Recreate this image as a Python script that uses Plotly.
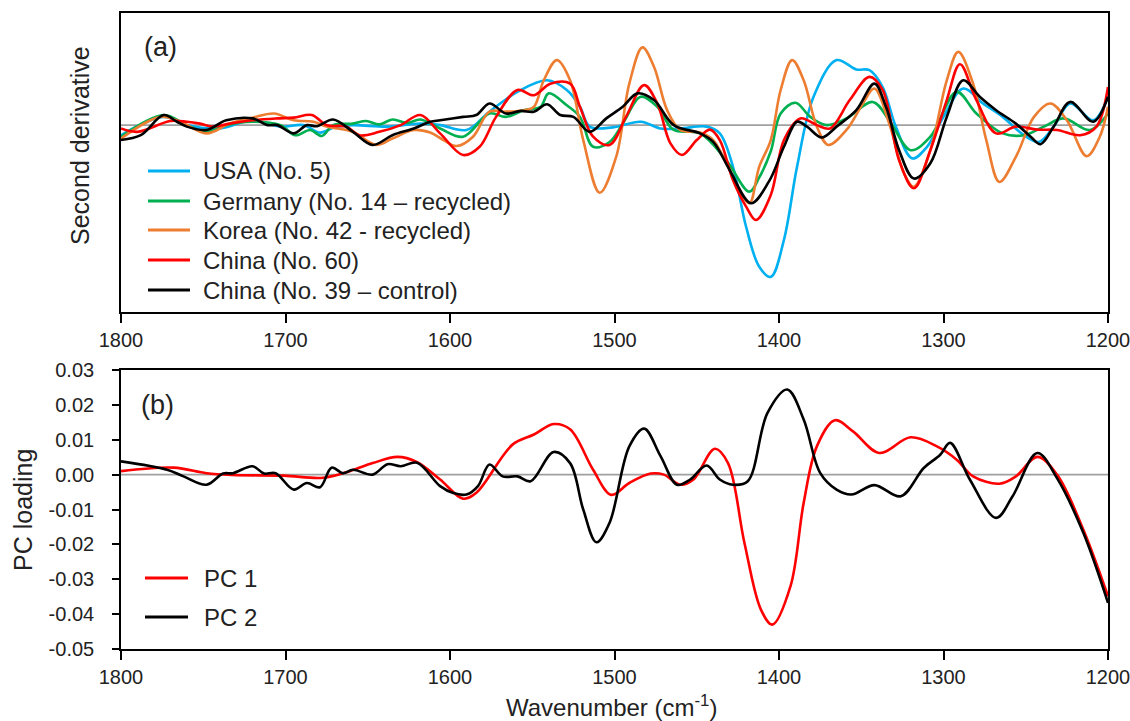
import plotly.graph_objects as go

# ---------------- Panel (a): second derivative spectra (wavenumber, value) ----------------
usa = [(1800,-0.27),(1774,0.22),(1760,0),(1740,-0.09),(1720,0.13),(1703,-0.04),(1689,0),(1679,-0.2),
       (1670,-0.05),(1659,0),(1638,-0.04),(1618,0.04),(1606,0),(1590,-0.13),(1576,0.36),(1559,0.89),
       (1541,1.2),(1529,0.94),(1521,0.49),(1515,-0.04),(1501,-0.06),(1484,0.09),(1472,-0.09),(1460,-0.09),
       (1444,-0.04),(1436,-0.22),(1428,-1.11),(1420,-2.72),(1412,-3.79),(1405,-4.06),(1397,-3.07),
       (1389,-1.11),(1379,0.76),(1365,1.74),(1353,1.49),(1345,1.47),(1337,1.02),(1329,-0.04),(1319,-0.89),
       (1310,-0.58),(1300,0.22),(1288,0.98),(1276,0.58),(1264,0.22),(1251,-0.27),(1242,-0.45),(1233,-0.04),
       (1223,0.58),(1209,0.13),(1200,0.76)]
germany = [(1800,-0.31),(1774,0.27),(1760,0),(1748,-0.18),(1736,0),(1720,0.09),(1703,0),(1694,-0.27),
           (1685,-0.13),(1678,-0.29),(1671,0),(1659,0.04),(1651,0.11),(1643,0.02),(1635,0.15),(1626,0.06),
           (1618,0.15),(1606,-0.09),(1592,-0.31),(1576,0.31),(1566,0.22),(1555,0.40),(1545,0.49),(1540,0.85),
           (1529,0.53),(1521,0.22),(1513,-0.58),(1503,-0.45),(1495,0.04),(1484,0.76),(1474,0.49),(1464,-0.13),
           (1448,-0.22),(1432,-0.94),(1418,-1.78),(1412,-1.40),(1405,-0.70),(1399,0.31),(1390,0.60),
           (1381,0.22),(1371,0),(1359,0.18),(1343,0.62),(1333,0.13),(1320,-0.67),(1308,-0.31),(1292,0.89),
           (1280,0.31),(1264,-0.22),(1251,-0.27),(1239,-0.04),(1227,0.18),(1211,-0.13),(1200,0.31)]
korea = [(1800,-0.36),(1776,0.22),(1764,0.09),(1748,-0.22),(1734,0.04),(1720,0.2),(1707,0.31),(1695,0.13),
         (1683,0.09),(1675,-0.04),(1659,-0.18),(1645,-0.53),(1635,-0.36),(1622,-0.13),(1612,-0.2),
         (1604,-0.4),(1596,-0.56),(1586,-0.31),(1576,0.36),(1566,0.36),(1555,0.40),(1549,0.49),(1543,1.2),
         (1535,1.74),(1527,1.2),(1519,-0.4),(1509,-1.81),(1499,-0.85),(1491,1.11),(1483,2.08),(1476,1.56),
         (1468,0.40),(1460,-0.13),(1448,-0.2),(1440,-0.4),(1432,-1.02),(1424,-1.74),(1418,-2.09),
         (1412,-1.11),(1405,-0.40),(1399,0.94),(1392,1.74),(1385,1.2),(1377,-0.04),(1370,-0.53),
         (1359,-0.13),(1349,0.58),(1342,0.98),(1333,0.04),(1324,-1.29),(1318,-1.65),(1308,-0.67),
         (1298,1.2),(1291,1.96),(1282,1.11),(1274,-0.40),(1266,-1.52),(1256,-0.85),(1245,0.22),(1235,0.58),
         (1225,0.13),(1213,-0.83),(1205,-0.31),(1200,0.49)]
china60 = [(1800,-0.09),(1790,-0.18),(1770,0.11),(1760,0.09),(1752,0.04),(1744,-0.04),(1734,0.04),
           (1720,0.13),(1705,0.18),(1695,0.2),(1684,0.27),(1675,0),(1663,-0.04),(1655,-0.27),(1643,-0.18),
           (1630,0),(1618,0.27),(1606,-0.22),(1592,-0.80),(1582,-0.58),(1572,0.22),(1559,0.94),(1549,0.80),
           (1539,1.11),(1527,1.11),(1521,0.49),(1513,-0.31),(1503,-0.53),(1493,0.22),(1482,1.07),(1474,0.58),
           (1466,-0.49),(1459,-0.80),(1450,-0.40),(1442,-0.12),(1436,-0.40),(1428,-1.47),(1420,-2.18),
           (1414,-2.54),(1405,-1.87),(1397,-0.40),(1387,0.18),(1377,0),(1369,-0.09),(1357,0.67),(1345,1.29),
           (1337,0.94),(1327,-0.94),(1318,-1.69),(1308,-0.67),(1298,0.67),(1290,1.63),(1280,0.67),
           (1268,-0.22),(1256,-0.04),(1243,-0.12),(1231,-0.13),(1217,-0.27),(1207,-0.04),(1200,1.02)]
china39 = [(1800,-0.40),(1788,-0.27),(1774,0.27),(1766,0.09),(1760,-0.04),(1748,-0.13),(1736,0.13),
           (1720,0.18),(1711,0),(1705,0),(1695,-0.22),(1687,0),(1681,-0.03),(1671,0.15),(1659,-0.18),
           (1647,-0.53),(1635,-0.27),(1622,-0.09),(1612,0.09),(1606,0.13),(1592,0.22),(1584,0.27),(1576,0.58),
           (1566,0.31),(1557,0.38),(1549,0.36),(1541,0.56),(1533,0.27),(1525,0.22),(1515,-0.18),(1505,0.18),
           (1495,0.49),(1486,0.85),(1476,0.67),(1464,0),(1448,-0.22),(1440,-0.45),(1430,-1.20),(1417,-2.09),
           (1406,-1.5),(1397,-0.58),(1389,0.09),(1383,-0.04),(1374,-0.33),(1365,-0.04),(1353,0.40),
           (1342,1.11),(1335,0.49),(1327,-0.67),(1318,-1.43),(1308,-1.02),(1298,0.22),(1288,1.20),
           (1278,0.76),(1268,0.40),(1256,0.04),(1247,-0.31),(1241,-0.51),(1233,-0.04),(1223,0.62),
           (1209,0.09),(1200,0.76)]

top_names = ["USA (No. 5)", "Germany (No. 14 \u2013 recycled)", "Korea (No. 42 - recycled)",
             "China (No. 60)", "China (No. 39 \u2013 control)"]
top_data = [usa, germany, korea, china60, china39]
top_colors = ["#00B0F0", "#00B050", "#ED7D31", "#FF0000", "#000000"]

# ---------------- Panel (b): PC loadings ----------------
pc1 = [(1800,0.001),(1768,0.002),(1748,0.0004),(1732,-0.0001),(1701,-0.0003),(1677,-0.0009),(1661,0.001),
       (1647,0.0033),(1632,0.0051),(1620,0.0036),(1606,-0.0014),(1592,-0.0069),(1584,-0.0052),
       (1562,0.0086),(1549,0.0115),(1537,0.0145),(1527,0.013),(1513,0.0014),(1502,-0.0058),(1491,-0.0024),
       (1478,0.0003),(1470,0.0),(1460,-0.0029),(1452,-0.0014),(1439,0.0074),(1431,0.0033),(1421,-0.0196),
       (1411,-0.0387),(1404,-0.043),(1393,-0.032),(1385,-0.0081),(1377,0.0081),(1366,0.0156),
       (1355,0.0124),(1339,0.0062),(1320,0.0107),(1304,0.0081),(1292,0.0043),(1282,-0.0005),
       (1266,-0.0026),(1256,-0.0005),(1243,0.0051),(1231,0.0),(1215,-0.0158),(1200,-0.0349)]
pc2 = [(1800,0.0038),(1772,0.0014),(1762,-0.0005),(1748,-0.0029),(1738,0.0003),(1732,0.0004),
       (1720,0.0024),(1713,0.0003),(1706,0.0004),(1695,-0.0043),(1687,-0.0024),(1679,-0.0036),
       (1672,0.002),(1665,0.0004),(1659,0.0014),(1647,0.0),(1638,0.003),(1630,0.0024),(1620,0.0034),
       (1606,-0.0033),(1598,-0.0053),(1590,-0.0057),(1583,-0.0033),(1576,0.0029),(1568,-0.0005),
       (1559,-0.0005),(1551,-0.0019),(1537,0.0065),(1527,0.0033),(1519,-0.010),(1511,-0.0194),
       (1503,-0.0138),(1491,0.0081),(1482,0.0132),(1472,0.0053),(1462,-0.0029),(1454,-0.0014),
       (1444,0.0026),(1436,-0.0014),(1428,-0.0029),(1419,-0.0019),(1407,0.0177),(1395,0.0244),
       (1385,0.0158),(1375,0.0005),(1365,-0.0043),(1356,-0.0057),(1342,-0.003),(1326,-0.0062),
       (1312,0.0019),(1302,0.0057),(1296,0.0091),(1284,-0.0014),(1268,-0.0124),(1258,-0.0062),
       (1243,0.0062),(1231,-0.001),(1215,-0.0167),(1200,-0.0368)]

bottom_names = ["PC 1", "PC 2"]
bottom_data = [pc1, pc2]
bottom_colors = ["#FF0000", "#000000"]

x_ticks = [1800, 1700, 1600, 1500, 1400, 1300, 1200]
y2_ticks = [0.03, 0.02, 0.01, 0.00, -0.01, -0.02, -0.03, -0.04, -0.05]
y2_ticktext = ["0.03", "0.02", "0.01", "0.00", "-0.01", "-0.02", "-0.03", "-0.04", "-0.05"]

FONT = "Liberation Sans, Arial, sans-serif"
TXT = "#222222"

# pixel geometry of the plot areas (figure 1130 x 721)
L, R, T, B = 121, 22, 13, 72
W, H = 1130 - L - R, 721 - T - B


def px_x(px):
    return (px - L) / W


def px_y(py):
    return (721 - B - py) / H


fig = go.Figure()

for name, data, color in zip(top_names, top_data, top_colors):
    fig.add_trace(go.Scatter(
        x=[p[0] for p in data], y=[p[1] for p in data], name=name, mode="lines",
        line=dict(color=color, width=2.6, shape="spline", smoothing=1.0),
        xaxis="x", yaxis="y", showlegend=False))

for name, data, color in zip(bottom_names, bottom_data, bottom_colors):
    fig.add_trace(go.Scatter(
        x=[p[0] for p in data], y=[p[1] for p in data], name=name, mode="lines",
        line=dict(color=color, width=2.6, shape="spline", smoothing=1.0),
        xaxis="x2", yaxis="y2", showlegend=False))

top_dom = [px_y(312), px_y(13)]
bot_dom = [px_y(649), px_y(370)]

axis_common = dict(showline=True, linecolor="black", linewidth=1.6, mirror=True,
                   showgrid=False, zeroline=False)
xtick = dict(tickvals=x_ticks, ticks="outside", ticklen=9, tickwidth=1.6, tickcolor="black",
             ticklabeloverflow="allow", tickfont=dict(size=20, family=FONT, color=TXT))

shapes = [
    dict(type="line", xref="x domain", yref="y", x0=0, x1=1, y0=0, y1=0,
         line=dict(color="#A0A0A0", width=1.9), layer="below"),
    dict(type="line", xref="x2 domain", yref="y2", x0=0, x1=1, y0=0, y1=0,
         line=dict(color="#A0A0A0", width=1.9), layer="below"),
]
annotations = [
    dict(text="(a)", x=px_x(160), y=px_y(47), font=dict(size=27)),
    dict(text="(b)", x=px_x(157), y=px_y(405), font=dict(size=27)),
    dict(text="Second derivative", x=px_x(80), y=px_y(146), textangle=-90, font=dict(size=25)),
    dict(text="PC loading", x=px_x(23), y=px_y(510), textangle=-90, font=dict(size=25)),
    dict(text="Wavenumber (cm<sup>-1</sup>)", x=px_x(611), y=px_y(706), font=dict(size=24)),
]

# manual legends (line sample + text)
top_rows = [171, 201, 230, 260, 290]
for name, color, ry in zip(top_names, top_colors, top_rows):
    shapes.append(dict(type="line", xref="paper", yref="paper", x0=px_x(148), x1=px_x(190),
                       y0=px_y(ry), y1=px_y(ry), line=dict(color=color, width=3)))
    annotations.append(dict(text=name, x=px_x(201), y=px_y(ry), xanchor="left",
                            font=dict(size=24)))
bot_rows = [578, 617]
for name, color, ry in zip(bottom_names, bottom_colors, bot_rows):
    shapes.append(dict(type="line", xref="paper", yref="paper", x0=px_x(145), x1=px_x(188),
                       y0=px_y(ry), y1=px_y(ry), line=dict(color=color, width=3)))
    annotations.append(dict(text=name, x=px_x(202), y=px_y(ry), xanchor="left",
                            font=dict(size=24)))

for a in annotations:
    a.setdefault("xref", "paper")
    a.setdefault("yref", "paper")
    a.setdefault("showarrow", False)
    a.setdefault("xanchor", "center")
    a.setdefault("yanchor", "middle")
    a["font"].update(family=FONT, color=TXT)

fig.update_layout(
    width=1130, height=721,
    margin=dict(l=L, r=R, t=T, b=B, autoexpand=False),
    paper_bgcolor="white", plot_bgcolor="white",
    font=dict(family=FONT, color=TXT, size=20),
    showlegend=False,
    xaxis=dict(domain=[0, 1], anchor="y", range=[1800, 1200], **xtick, **axis_common),
    yaxis=dict(domain=top_dom, anchor="x", range=[-5, 3], showticklabels=False, ticks="",
               **axis_common),
    xaxis2=dict(domain=[0, 1], anchor="y2", range=[1800, 1200], **xtick, **axis_common),
    yaxis2=dict(domain=bot_dom, anchor="x2", range=[-0.05, 0.03], tickvals=y2_ticks,
                ticktext=y2_ticktext, ticks="outside", ticklen=7, tickwidth=1.6,
                tickcolor="black", ticklabelstandoff=14,
                tickfont=dict(size=20, family=FONT, color=TXT), **axis_common),
    shapes=shapes,
    annotations=annotations,
)

fig.write_html("out.html", config={"displayModeBar": False},
               post_script="document.body.style.margin='0';document.body.style.overflow='hidden';")
